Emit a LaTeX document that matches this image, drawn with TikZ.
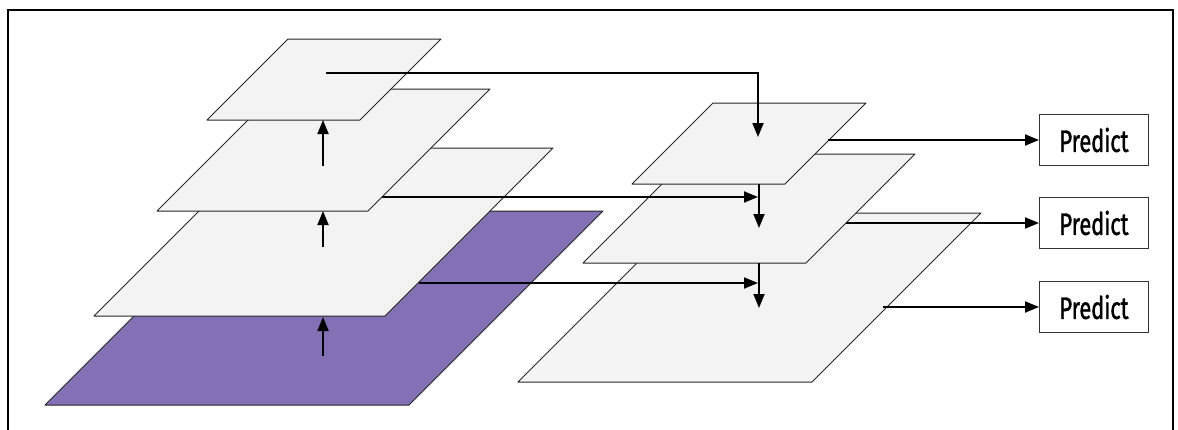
\documentclass[tikz,border=0pt]{standalone}
\usepackage{fontspec}
\usetikzlibrary{arrows.meta}
\newfontfamily\predictfont[FakeStretch=0.7,FakeBold=1.2]{Fira Sans}

\definecolor{layergray}{RGB}{243,243,243}
\definecolor{basepurple}{RGB}{132,112,181}

\tikzset{
    plane/.style = {draw=black!85, line width=1pt, fill=layergray, line join=round},
    feed/.style  = {draw=black, line width=1.9pt},
    arr/.style   = {feed, -{Triangle[length=14pt,width=11pt]}},
    predictbox/.style = {draw=black!80, line width=1pt, minimum width=109pt,
        minimum height=51pt, inner sep=0pt, font=\predictfont\fontsize{31}{33}\selectfont}
}

\begin{document}
\begin{tikzpicture}[x=1pt, y=-1pt]
    \useasboundingbox (0,0) rectangle (1178,429);
    % Frame
    \draw[line width=1.8pt] (8,10) rectangle (1173,445);

    % Right pyramid (bottom to top)
    \filldraw[plane] (518,382) -- ++(294,0) -- ++(169,-169) -- ++(-294,0) -- cycle;
    \filldraw[plane] (583,263) -- ++(223,0) -- ++(109,-109) -- ++(-223,0) -- cycle;
    \filldraw[plane] (632,184) -- ++(153,0) -- ++(81,-81) -- ++(-153,0) -- cycle;

    % Predict heads
    \node[predictbox] (p1) at (1094,140) {Predict};
    \node[predictbox] (p2) at (1094,223) {Predict};
    \node[predictbox] (p3) at (1094,307) {Predict};

    % Coordinates on the right pyramid
    \coordinate (r1out) at (828,140);
    \coordinate (r2out) at (846,223);
    \coordinate (r3out) at (883,307);
    \coordinate (r1top) at (758,73);
    \coordinate (r1in) at (758,137);
    \coordinate (r1bot) at (759,184);
    \coordinate (r2in) at (759,228);
    \coordinate (r2bot) at (759,263);
    \coordinate (r3in) at (759,308);
    \coordinate (r2lat) at (758,197);
    \coordinate (r3lat) at (758,283);

    % Outputs to the predict heads
    \draw[arr] (r1out) -- (p1.west);
    \draw[arr] (r2out) -- (p2.west);
    \draw[arr] (r3out) -- (p3.west);

    % Top-down path
    \draw[arr] (r1bot) -- (r2in);
    \draw[arr] (r2bot) -- (r3in);

    % Left pyramid, with the lateral lines tucked under the layers
    \filldraw[plane, fill=basepurple] (45,405) -- ++(364,0) -- ++(194,-194) -- ++(-364,0) -- cycle;
    \coordinate (l3out) at (419,283);
    \draw[arr] (l3out) -- (r3lat);
    \filldraw[plane] (94,316) -- ++(291,0) -- ++(168,-168) -- ++(-291,0) -- cycle;
    \coordinate (l2out) at (381,197);
    \draw[arr] (l2out) -- (r2lat);
    \filldraw[plane] (157,211) -- ++(211,0) -- ++(122,-122) -- ++(-211,0) -- cycle;
    \filldraw[plane] (207,120) -- ++(153,0) -- ++(81,-81) -- ++(-153,0) -- cycle;

    % Top level into the right pyramid
    \coordinate (l1out) at (326,73);
    \draw[arr] (l1out) -- (r1top) -- (r1in);

    % Bottom-up path
    \coordinate (a0) at (323,356);
    \coordinate (a1) at (323,247);
    \coordinate (a2) at (323,166);
    \draw[arr] (a0) -- (323,317);
    \draw[arr] (a1) -- (323,211);
    \draw[arr] (a2) -- (323,120);
\end{tikzpicture}
\end{document}
